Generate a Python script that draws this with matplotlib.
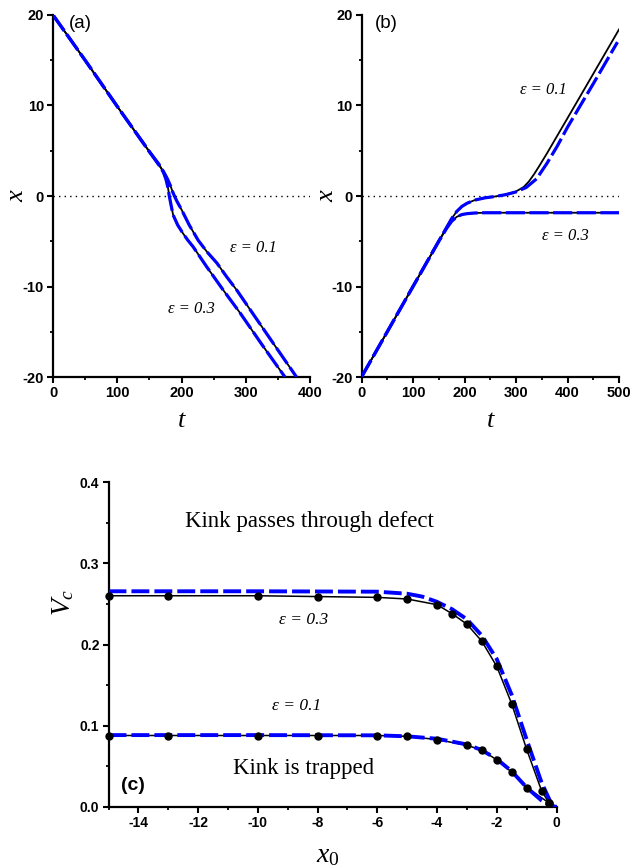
import matplotlib
matplotlib.use("Agg")
import matplotlib.pyplot as plt
from matplotlib.ticker import MultipleLocator, FormatStrFormatter

plt.rcParams['font.family'] = ['Liberation Sans', 'DejaVu Sans']
plt.rcParams['mathtext.fontset'] = 'custom'
plt.rcParams['mathtext.it'] = 'Liberation Serif:italic'
plt.rcParams['mathtext.rm'] = 'Liberation Serif'
plt.rcParams['axes.unicode_minus'] = False

# ---------------- data: panel (a) ----------------
ta_03 = [0, 50, 100, 150, 165, 172, 176, 179, 181, 184, 187, 194, 202, 210, 218, 239, 265, 291, 325, 361]
xa_03 = [20, 15.0, 9.9, 4.9, 3.5, 2.6, 1.8, 0.9, 0.0, -1.1, -2.1, -3.2, -4.1, -4.9, -5.6, -7.8, -10.4, -12.9, -16.4, -20.0]
ta_01 = [0, 50, 100, 150, 165, 172, 178, 183, 186, 189, 193, 200, 212, 226, 240, 255, 270, 286, 314, 345, 379]
xa_01 = [20, 15.0, 9.9, 4.9, 3.4, 2.7, 1.9, 1.1, 0.5, 0.0, -0.6, -1.5, -3.2, -4.9, -6.2, -7.4, -8.9, -10.4, -13.3, -16.5, -20.0]
# dashed (blue) curves in (a) practically coincide with the solid ones
ta_03_b = ta_03
xa_03_b = xa_03
ta_01_b = ta_01
xa_01_b = xa_01

# ---------------- data: panel (b) ----------------
tb_03 = [0, 50, 100, 150, 165, 175, 185, 195, 205, 220, 240, 270, 300, 400, 500]
xb_03 = [-20, -15, -10, -5, -3.6, -2.8, -2.3, -2.05, -1.95, -1.88, -1.85, -1.85, -1.85, -1.85, -1.85]
tb_01 = [0, 50, 100, 150, 165, 175, 185, 195, 205, 220, 240, 260, 280, 300, 315, 325, 335, 345, 360, 400, 450, 500]
xb_01 = [-20, -15, -10, -5, -3.5, -2.5, -1.7, -1.15, -0.8, -0.45, -0.2, -0.05, 0.15, 0.5, 1.0, 1.6, 2.4, 3.3, 4.7, 8.6, 13.5, 18.4]
tb_03_b = tb_03
xb_03_b = xb_03
tb_01_b = [0, 50, 100, 150, 165, 175, 185, 195, 205, 220, 240, 260, 280, 300, 320, 340, 360, 380, 400, 450, 497]
xb_01_b = [-20, -15, -10, -5, -3.5, -2.5, -1.7, -1.15, -0.8, -0.45, -0.2, -0.05, 0.15, 0.45, 0.95, 1.9, 3.6, 5.5, 7.6, 12.4, 17.0]

# ---------------- data: panel (c) ----------------
x0_03 = [-15, -13, -10, -8, -6, -5, -4, -3.5, -3, -2.5, -2, -1.5, -1, -0.5, -0.25]
vc_03 = [0.260, 0.260, 0.260, 0.259, 0.258, 0.256, 0.249, 0.238, 0.225, 0.204, 0.173, 0.127, 0.071, 0.020, 0.005]
x0_01 = [-15, -13, -10, -8, -6, -5, -4, -3, -2.5, -2, -1.5, -1, -0.25]
vc_01 = [0.088, 0.088, 0.088, 0.088, 0.088, 0.087, 0.083, 0.076, 0.070, 0.058, 0.043, 0.024, 0.005]
x0_03_b = [-15, -10, -6, -5, -4.5, -4, -3.5, -3, -2.5, -2, -1.5, -1, -0.5, -0.2, 0]
vc_03_b = [0.2655, 0.2655, 0.265, 0.2625, 0.259, 0.2525, 0.2435, 0.231, 0.211, 0.182, 0.138, 0.083, 0.030, 0.006, 0.0]
x0_01_b = [-15, -10, -6, -5, -4, -3, -2.5, -2, -1.5, -1, -0.5, -0.2, 0]
vc_01_b = [0.0885, 0.0885, 0.0882, 0.087, 0.084, 0.077, 0.070, 0.059, 0.044, 0.024, 0.008, 0.002, 0.0]

W, H = 632, 867
fig = plt.figure(figsize=(W / 100, H / 100), dpi=100)

def frac(l, r, t, b):
    return [l / W, 1 - b / H, (r - l) / W, (b - t) / H]

ax_a = fig.add_axes(frac(53, 310, 15, 377))
ax_b = fig.add_axes(frac(361.5, 619, 15, 377))
ax_c = fig.add_axes(frac(108.5, 556.5, 482, 807))

def style(ax, fs):
    for s in ['top', 'right']:
        ax.spines[s].set_visible(False)
    for s in ['left', 'bottom']:
        ax.spines[s].set_linewidth(1.6)
    ax.tick_params(which='major', direction='out', length=4, width=1.5, labelsize=fs, pad=2.5)
    ax.tick_params(which='minor', direction='out', length=2.5, width=1.3)
    for lab in ax.get_xticklabels() + ax.get_yticklabels():
        lab.set_fontweight('bold')

def place_labels(ax, xl, yl, xpos, ypos):
    ax.xaxis.label.set_verticalalignment('center')
    ax.yaxis.label.set_verticalalignment('center')
    ax.xaxis.set_label_coords(0.5 if xpos is None else xpos[0], xpos[1] if xpos else -0.12)
    ax.yaxis.set_label_coords(ypos[0], ypos[1])

serif_it = dict(family='Liberation Serif', style='italic')
black_kw = dict(color='black', lw=1.3, zorder=2)
blue_kw = dict(color='blue', lw=2.3, zorder=3, dashes=(6, 1.4))

# ---- (a)
ax = ax_a
ax.plot(ta_03, xa_03, **black_kw)
ax.plot(ta_01, xa_01, **black_kw)
ax.plot(ta_03_b, xa_03_b, **blue_kw)
ax.plot(ta_01_b, xa_01_b, **blue_kw)
ax.axhline(0, color='black', lw=1.0, ls=(0, (1, 3)), zorder=1)
ax.set_xlim(0, 400)
ax.set_ylim(-20, 20)
ax.xaxis.set_major_locator(MultipleLocator(100))
ax.xaxis.set_minor_locator(MultipleLocator(50))
ax.yaxis.set_major_locator(MultipleLocator(10))
ax.yaxis.set_minor_locator(MultipleLocator(5))
style(ax, 10.5)
ax.text(0.06, 1.0, '(a)', transform=ax.transAxes, va='top', ha='left', fontsize=13.5)
ax.text(275, -5.75, 'ε = 0.1', va='center', ha='left', fontsize=12, **serif_it)
ax.text(179, -12.5, 'ε = 0.3', va='center', ha='left', fontsize=12, **serif_it)
ax.set_xlabel('t', fontsize=19, **serif_it)
ax.set_ylabel('x', fontsize=19, **serif_it)
place_labels(ax, None, None, (0.5, -0.122), (-0.14, 0.5))

# ---- (b)
ax = ax_b
ax.plot(tb_03, xb_03, **black_kw)
ax.plot(tb_01, xb_01, **black_kw)
ax.plot(tb_03_b, xb_03_b, **blue_kw)
ax.plot(tb_01_b, xb_01_b, **blue_kw)
ax.axhline(0, color='black', lw=1.0, ls=(0, (1, 3)), zorder=1)
ax.set_xlim(0, 500)
ax.set_ylim(-20, 20)
ax.xaxis.set_major_locator(MultipleLocator(100))
ax.xaxis.set_minor_locator(MultipleLocator(50))
ax.yaxis.set_major_locator(MultipleLocator(10))
ax.yaxis.set_minor_locator(MultipleLocator(5))
style(ax, 10.5)
ax.text(0.05, 1.0, '(b)', transform=ax.transAxes, va='top', ha='left', fontsize=13.5)
ax.text(308, 11.7, 'ε = 0.1', va='center', ha='left', fontsize=12, **serif_it)
ax.text(350, -4.4, 'ε = 0.3', va='center', ha='left', fontsize=12, **serif_it)
ax.set_xlabel('t', fontsize=19, **serif_it)
ax.set_ylabel('x', fontsize=19, **serif_it)
place_labels(ax, None, None, (0.5, -0.122), (-0.134, 0.5))

# ---- (c)
ax = ax_c
ax.plot(x0_03, vc_03, color='black', lw=1.1, zorder=2)
ax.plot(x0_01, vc_01, color='black', lw=1.1, zorder=2)
ax.plot(x0_03_b, vc_03_b, color='blue', lw=2.8, dashes=(4.6, 1.3), zorder=3)
ax.plot(x0_01_b, vc_01_b, color='blue', lw=2.8, dashes=(4.6, 1.3), zorder=3)
ax.plot(x0_03, vc_03, ls='none', marker='o', ms=5, color='black', zorder=4, clip_on=False)
ax.plot(x0_01, vc_01, ls='none', marker='o', ms=5, color='black', zorder=4, clip_on=False)
ax.set_xlim(-15, 0)
ax.set_ylim(0, 0.4)
ax.xaxis.set_major_locator(MultipleLocator(2))
ax.xaxis.set_minor_locator(MultipleLocator(1))
ax.yaxis.set_major_locator(MultipleLocator(0.1))
ax.yaxis.set_minor_locator(MultipleLocator(0.05))
ax.yaxis.set_major_formatter(FormatStrFormatter('%.1f'))
style(ax, 10)
ax.text(-8.28, 0.351, 'Kink passes through defect', ha='center', va='center',
        fontsize=16.5, family='Liberation Serif')
ax.text(-8.46, 0.047, 'Kink is trapped', ha='center', va='center',
        fontsize=16.5, family='Liberation Serif')
ax.text(-8.48, 0.2306, 'ε = 0.3', ha='center', va='center', fontsize=12.5, **serif_it)
ax.text(-8.70, 0.124, 'ε = 0.1', ha='center', va='center', fontsize=12.5, **serif_it)
ax.text(-14.17, 0.0267, '(c)', ha='center', va='center', fontsize=14, fontweight='bold')
ax.set_xlabel(r'$x_0$', fontsize=20)
ax.set_ylabel(r'$V_c$', fontsize=20)
place_labels(ax, None, None, (0.49, -0.148), (-0.102, 0.63))

fig.savefig('out.png', dpi=100)
